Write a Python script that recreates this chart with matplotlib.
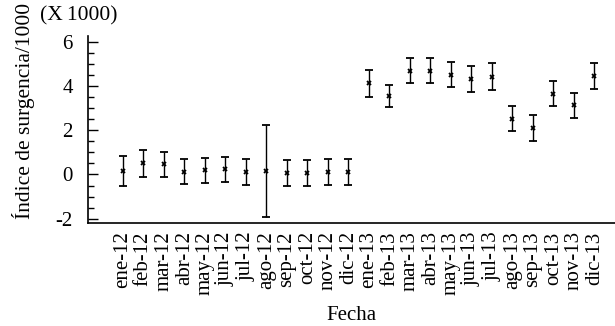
import matplotlib
matplotlib.use("Agg")
import matplotlib.pyplot as plt
from matplotlib.ticker import MultipleLocator

# Monthly upwelling index (in thousands) with its error half-widths
months = ["ene-12", "feb-12", "mar-12", "abr-12", "may-12", "jun-12",
          "jul-12", "ago-12", "sep-12", "oct-12", "nov-12", "dic-12",
          "ene-13", "feb-13", "mar-13", "abr-13", "may-13", "jun-13",
          "jul-13", "ago-13", "sep-13", "oct-13", "nov-13", "dic-13"]
index_k = [0.16, 0.50, 0.46, 0.13, 0.19, 0.23, 0.11, 0.16, 0.07, 0.07, 0.13, 0.13,
           4.13, 3.58, 4.71, 4.71, 4.52, 4.34, 4.44, 2.53, 2.12, 3.67, 3.13, 4.47]
err_k = [0.67, 0.63, 0.57, 0.57, 0.58, 0.58, 0.60, 2.10, 0.60, 0.60, 0.59, 0.59,
         0.60, 0.50, 0.58, 0.58, 0.57, 0.60, 0.60, 0.57, 0.59, 0.58, 0.58, 0.60]

plt.rcParams["font.family"] = ["Liberation Serif", "DejaVu Serif"]
plt.rcParams["axes.unicode_minus"] = False

fig = plt.figure(figsize=(6.15, 3.26), dpi=100)
ax = fig.add_axes([88 / 615, 1 - 223 / 326, 527 / 615, 187 / 326])

x = list(range(len(months)))
ax.errorbar(x, index_k, yerr=err_k, fmt="x", color="black", ecolor="black",
            markersize=3.5, markeredgewidth=1.3, elinewidth=1.0,
            capsize=3, capthick=1.0)

ax.set_xlim(-1.7, 24.0)
ax.set_ylim(-2.2, 6.28)
ax.yaxis.set_major_locator(MultipleLocator(2))
ax.yaxis.set_minor_locator(MultipleLocator(0.5))
ax.set_xticks(x)
ax.set_xticklabels(months, rotation=90, fontsize=15)
ax.tick_params(axis="x", length=0, pad=6)
ax.tick_params(axis="y", which="major", direction="in", length=7, width=1,
               labelsize=15, pad=11)
ax.tick_params(axis="y", which="minor", direction="in", length=4.5, width=1)

for side in ("top", "right"):
    ax.spines[side].set_visible(False)
for side in ("left", "bottom"):
    ax.spines[side].set_linewidth(1.2)

ax.set_xlabel("Fecha", fontsize=15, labelpad=7.5)
ax.set_ylabel("Índice de surgencia/1000", fontsize=15.5)
ax.yaxis.set_label_coords(-0.101, 0.6)
fig.text(40 / 615, 1 - 16 / 326, "(X\u20091000)", fontsize=15.5,
         va="center", ha="left")

fig.savefig("out.png", dpi=100)
